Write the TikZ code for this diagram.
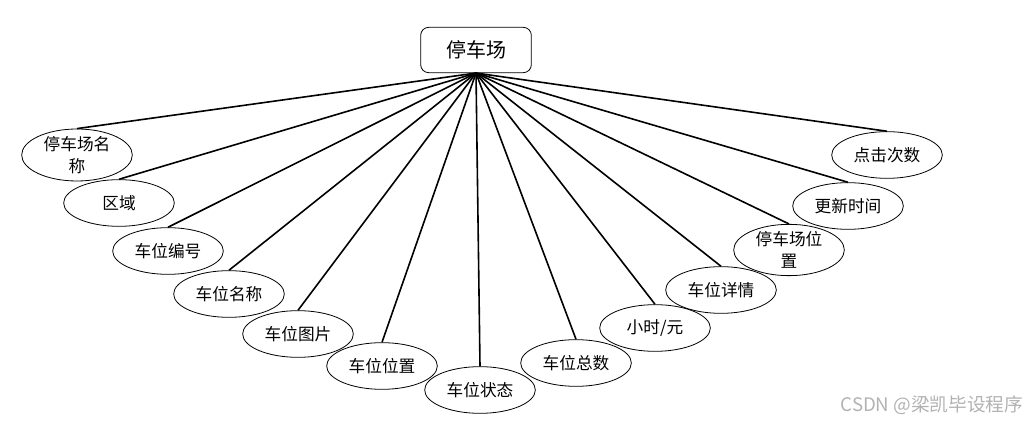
\documentclass[tikz,border=0pt]{standalone}
\usepackage{fontspec}
\newfontfamily\cjk{Noto Sans CJK SC}
\usepackage{tikz}
\usetikzlibrary{shapes.geometric,positioning}

\begin{document}
\begin{tikzpicture}[x=0.75pt, y=-0.75pt,
    entity/.style={draw, rounded corners=6pt, line width=0.6pt, minimum width=83pt, minimum height=34pt, font=\cjk\fontsize{15}{17}\selectfont},
    attr/.style={draw, ellipse, line width=0.6pt, minimum width=83pt, minimum height=35pt, inner sep=0pt, align=center, font=\cjk\fontsize{12.5}{16}\selectfont},
    link/.style={line width=1.2pt}]
  \useasboundingbox (0,0) rectangle (1031,423);

  % Entity
  \node[entity] (park) at (476, 50) {停车场};

  % Attributes, left to right
  \node[attr] (pname) at (77, 155) {停车场名\\称};
  \node[attr] (area) at (119, 203) {区域};
  \node[attr] (spotno) at (168, 251) {车位编号};
  \node[attr] (spotname) at (229, 294) {车位名称};
  \node[attr] (spotimg) at (298, 334) {车位图片};
  \node[attr] (spotpos) at (382, 366) {车位位置};
  \node[attr] (spotstate) at (480, 390) {车位状态};
  \node[attr] (spottotal) at (576, 363) {车位总数};
  \node[attr] (hourfee) at (655, 328) {小时/元};
  \node[attr] (spotinfo) at (721, 290) {车位详情};
  \node[attr] (parkpos) at (789, 250) {停车场位\\置};
  \node[attr] (updtime) at (848, 206) {更新时间};
  \node[attr] (clicks) at (887, 155) {点击次数};

  % Connectors
  \foreach \a in {pname, area, spotno, spotname, spotimg, spotpos, spotstate,
                  spottotal, hourfee, spotinfo, parkpos, updtime, clicks}
    \draw[link] (park.south) -- (\a.north);

  % Watermark
  \node[font=\cjk\fontsize{14}{16}\selectfont, text=black!30, anchor=east] (mark) at (1028, 405) {CSDN @梁凯毕设程序};
\end{tikzpicture}
\end{document}
